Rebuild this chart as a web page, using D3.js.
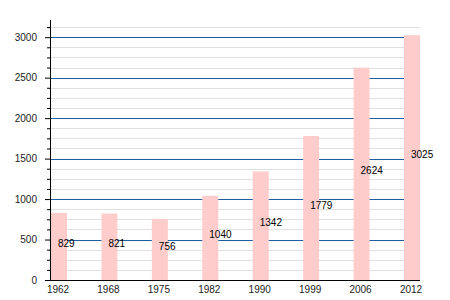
<!DOCTYPE html>
<html><head><meta charset="utf-8">
<script src="https://cdn.jsdelivr.net/npm/d3@7"></script>
<style>body{margin:0;background:#fff}svg{display:block;font-family:"Liberation Sans",Arial,sans-serif}</style>
</head><body><svg id="c" width="450" height="300"></svg>
<script>
const years = ["1962","1968","1975","1982","1990","1999","2006","2012"];
const population = [829, 821, 756, 1040, 1342, 1779, 2624, 3025];
const majorTicks = [0, 500, 1000, 1500, 2000, 2500, 3000];

(function () {
const svg = d3.select("#c");
const pL = 50, pR = 420, pB = 280, pT = 21;
const barW = 16;
const x = d3.scalePoint().domain(years).range([51, 404]);
const y = d3.scaleLinear().domain([0, 3200]).range([pB, pT]);

const minor = d3.range(125, 3200, 125).filter(v => v % 500 !== 0);
svg.append("g").selectAll("line").data(minor).join("line")
  .attr("x1", pL).attr("x2", pR).attr("y1", d => Math.round(y(d)) + 0.5).attr("y2", d => Math.round(y(d)) + 0.5)
  .attr("stroke", "#e0e0e0").attr("stroke-width", 1);
svg.append("g").selectAll("line").data(majorTicks.filter(d => d > 0)).join("line")
  .attr("x1", pL).attr("x2", pR).attr("y1", d => Math.round(y(d)) + 0.5).attr("y2", d => Math.round(y(d)) + 0.5)
  .attr("stroke", "#1f5fa0").attr("stroke-width", 1);

svg.append("g").selectAll("rect").data(population).join("rect")
  .attr("x", (d, i) => x(years[i])).attr("width", barW)
  .attr("y", d => y(d)).attr("height", d => pB - y(d))
  .attr("fill", "#ffcccc");

svg.append("g").selectAll("text").data(population).join("text")
  .attr("x", (d, i) => x(years[i]) + barW / 2 - 1)
  .attr("y", d => y(d / 2)).attr("dy", "0.05em")
  .attr("font-size", 10).attr("fill", "#000").text(d => d);

const yAxisMajor = d3.axisLeft(y).tickValues(majorTicks).tickSize(5).tickPadding(8).tickFormat(d3.format("d"));
const gy = svg.append("g").attr("transform", `translate(${pL},0)`).call(yAxisMajor);
gy.select(".domain").remove();
gy.selectAll("text").attr("font-size", 10).attr("fill", "#222").attr("font-family", "Liberation Sans, Arial, sans-serif");
const yAxisMinor = d3.axisLeft(y).tickValues(minor.concat([3125])).tickSize(3).tickFormat("");
const gym = svg.append("g").attr("transform", `translate(${pL},0)`).call(yAxisMinor);
gym.select(".domain").remove();
svg.append("line").attr("x1", pL + 0.5).attr("x2", pL + 0.5).attr("y1", pT - 1).attr("y2", pB)
  .attr("stroke", "#000");

svg.append("line").attr("x1", pL).attr("x2", pR).attr("y1", pB + 0.5).attr("y2", pB + 0.5).attr("stroke", "#000");
svg.append("g").selectAll("text").data(years).join("text")
  .attr("x", d => x(d) + barW / 2 - 1).attr("y", pB + 13)
  .attr("text-anchor", "middle").attr("font-size", 10).attr("fill", "#222").text(d => d);
})();
</script></body></html>
